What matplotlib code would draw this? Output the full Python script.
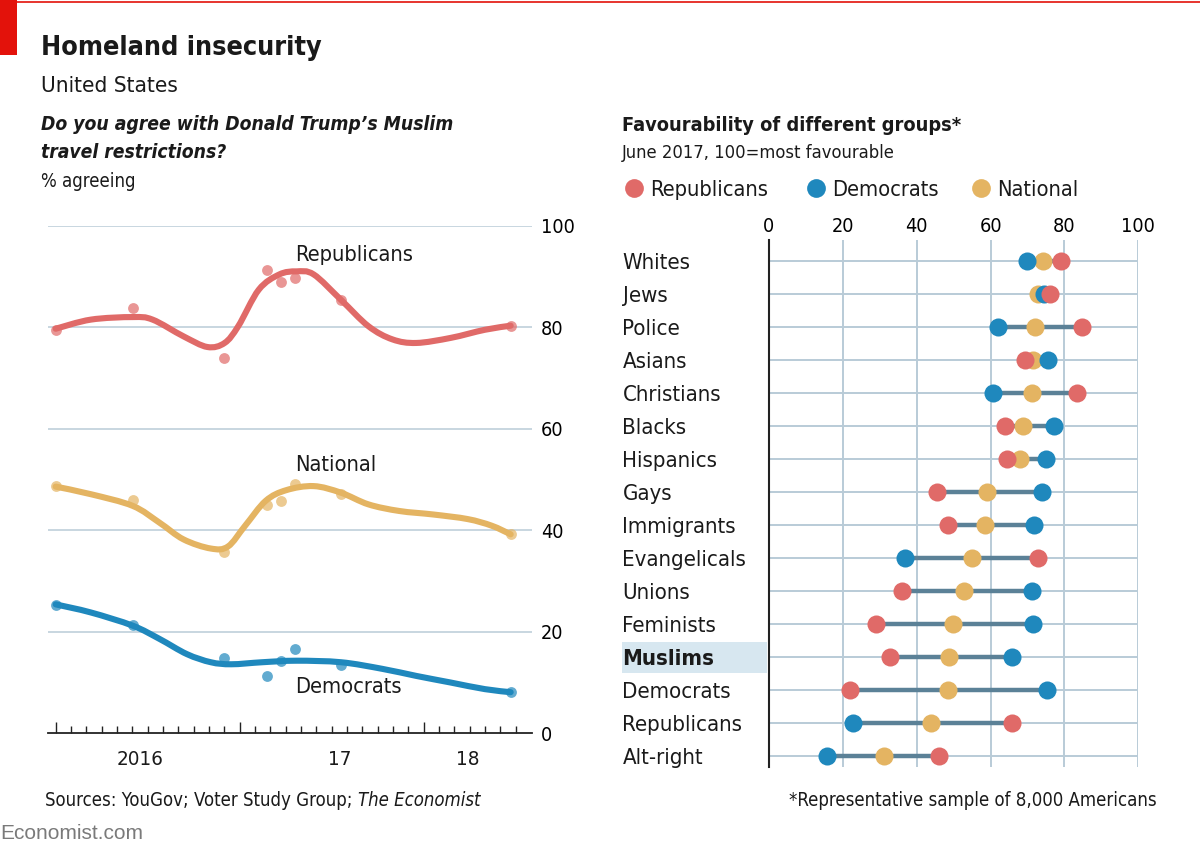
import os
import numpy as np
import matplotlib
matplotlib.use('Agg')
import matplotlib.pyplot as plt
from matplotlib import font_manager as fm
from matplotlib.path import Path
from matplotlib.patches import PathPatch, Rectangle
from matplotlib.lines import Line2D
import matplotlib.transforms as mtransforms

# ---------------- data: left chart (x = months since Jan 1st 2016) ----------------
series_names = ['Republicans', 'Democrats', 'National']

survey_months = [0.0, 5.03, 11.0, 13.8, 14.7, 15.6, 18.6, 29.7]
rep_agree = [79.5, 83.7, 74.0, 91.3, 89.0, 89.7, 85.4, 80.3]
nat_agree = [48.7, 45.9, 35.7, 45.0, 45.8, 49.2, 47.2, 39.2]
dem_agree = [25.3, 21.4, 14.8, 11.2, 14.2, 16.6, 13.5, 8.1]

# smoothed trend lines
rep_trend_months = [0, 2.30, 5.03, 6.32, 8.34, 9.90, 11.02, 11.91, 13.25, 14.59,
                    15.71, 16.83, 18.61, 20.40, 21.97, 23.53, 25.77, 28.0, 29.68]
rep_trend = [79.7, 81.5, 82.0, 81.5, 78.2, 76.1, 76.9, 80.2, 87.4, 90.4,
             91.0, 90.4, 85.4, 80.2, 77.6, 76.9, 77.9, 79.5, 80.3]
nat_trend_months = [0, 2.30, 5.03, 6.77, 8.34, 10.12, 11.24, 12.36, 13.70, 15.04,
                    16.83, 18.61, 20.40, 22.41, 24.65, 26.88, 28.44, 29.68]
nat_trend = [48.6, 47.1, 44.8, 41.5, 38.2, 36.4, 36.8, 40.9, 45.8, 47.9,
             48.7, 47.4, 45.1, 43.8, 43.1, 42.2, 40.9, 39.2]
dem_trend_months = [0, 2.30, 5.03, 6.77, 8.56, 10.12, 11.46, 13.47, 15.71, 18.61,
                    21.30, 23.53, 25.77, 28.0, 29.68]
dem_trend = [25.4, 23.8, 21.2, 18.6, 15.6, 14.0, 13.6, 14.0, 14.3, 14.0,
             12.7, 11.3, 10.0, 8.7, 8.1]

left_yticks = [0, 20, 40, 60, 80, 100]
year_labels = ['2016', '17', '18']
year_label_months = [5.5, 18.5, 26.9]
year_start_months = [0, 12, 24]
n_month_ticks = 31

# ---------------- data: right chart ----------------
groups = ['Whites', 'Jews', 'Police', 'Asians', 'Christians', 'Blacks', 'Hispanics',
          'Gays', 'Immigrants', 'Evangelicals', 'Unions', 'Feminists', 'Muslims',
          'Democrats', 'Republicans', 'Alt-right']
fav_rep = [79.2, 76.1, 84.7, 69.3, 83.4, 63.8, 64.5, 45.4, 48.6, 72.8, 35.9, 29.0,
           32.9, 22.0, 65.9, 45.9]
fav_dem = [69.9, 74.4, 62.1, 75.6, 60.6, 77.1, 74.9, 73.9, 71.7, 36.7, 71.3, 71.5,
           65.7, 75.4, 22.7, 15.7]
fav_nat = [74.1, 72.9, 72.0, 71.5, 71.2, 68.8, 68.1, 58.9, 58.5, 54.9, 52.7, 49.8,
           48.8, 48.6, 44.0, 31.1]
highlight_group = 'Muslims'
right_xticks = [0, 20, 40, 60, 80, 100]

# ---------------- style ----------------
RED = '#e06a68'
BLUE = '#1f88bd'
YELLOW = '#e4b462'
GRID = '#b9cbd7'
CONNECT = '#5b8197'
HILITE = '#d7e7f0'
TXT = '#1a1a1a'

# pick a narrow/condensed face if one is installed
path_by_base = {os.path.splitext(os.path.basename(f.fname))[0]: f.fname
                for f in fm.fontManager.ttflist}
font_sets = [
    ('NotoSans-SemiCondensed', 0.97),
    ('LiberationSansNarrow-', 1.0),
    ('DejaVuSansCondensed', 0.92),
    ('NotoSans-Condensed', 1.02),
]
suffixes = {'': (400, 'normal'), 'Regular': (400, 'normal'),
            'Italic': (400, 'italic'), 'Oblique': (400, 'italic'), '-Oblique': (400, 'italic'),
            'Medium': (500, 'normal'), 'MediumItalic': (500, 'italic'),
            'SemiBold': (600, 'normal'), 'SemiBoldItalic': (600, 'italic'),
            'Bold': (700, 'normal'), '-Bold': (700, 'normal'),
            'BoldItalic': (700, 'italic'), '-BoldOblique': (700, 'italic')}
FAMILY, K = 'Liberation Sans', 0.9
for prefix, k in font_sets:
    found = False
    for suf, (w, st) in suffixes.items():
        base = prefix + suf
        if base in path_by_base:
            fm.fontManager.ttflist.append(fm.FontEntry(
                fname=path_by_base[base], name='CondUI', style=st, variant='normal',
                weight=w, stretch='normal', size='scalable'))
            found = True
    if found:
        FAMILY, K = 'CondUI', k
        break
try:
    fm.fontManager._findfont_cached.cache_clear()
except Exception:
    pass

plt.rcParams['font.family'] = [FAMILY, 'DejaVu Sans']
plt.rcParams['text.color'] = TXT


def fs(v):
    return v * K


W, H = 1200, 851
fig = plt.figure(figsize=(W / 100, H / 100), dpi=100)


def fx(px):
    return px / W


def fy(py):
    return 1 - py / H


# header decorations
fig.add_artist(Rectangle((0, fy(55)), fx(17), fy(0) - fy(55), transform=fig.transFigure,
                         color='#e3120b', lw=0))
fig.add_artist(Line2D([0, 1], [fy(1.5), fy(1.5)], transform=fig.transFigure,
                      color='#e3120b', lw=1.2))

fig.text(fx(41), fy(55), 'Homeland insecurity', fontsize=fs(21), fontweight='bold',
         va='baseline')
fig.text(fx(41), fy(91.5), 'United States', fontsize=fs(17.5), va='baseline')
fig.text(fx(41), fy(130), 'Do you agree with Donald Trump\u2019s Muslim', fontsize=fs(15.1),
         fontstyle='italic', fontweight=600, va='baseline')
fig.text(fx(41), fy(157.5), 'travel restrictions?', fontsize=fs(15.1),
         fontstyle='italic', fontweight=600, va='baseline')
fig.text(fx(41), fy(187), '% agreeing', fontsize=fs(14.5), va='baseline')

fig.text(fx(622), fy(131), 'Favourability of different groups*', fontsize=fs(15.6),
         fontweight=600, va='baseline')
fig.text(fx(622), fy(158), 'June 2017, 100=most favourable', fontsize=fs(14.3),
         va='baseline')

# legend
leg_colors = [RED, BLUE, YELLOW]
leg_dot_x = [633.5, 815.5, 981]
for name, col, x in zip(series_names, leg_colors, leg_dot_x):
    fig.add_artist(Line2D([fx(x)], [fy(187.5)], transform=fig.transFigure, marker='o',
                          ms=13.5, mew=0, color=col, ls='none'))
    fig.text(fx(x + 16.5), fy(187.5), name, fontsize=fs(17), va='center_baseline')

# ---------------- left chart ----------------
axL = fig.add_axes([fx(47.7), fy(733.3), fx(532.3) - fx(47.7), fy(225.7) - fy(733.3)])
axL.set_xlim(-0.52, 31.09)
axL.set_ylim(0, 100)
for s in ['top', 'left', 'right']:
    axL.spines[s].set_visible(False)
axL.spines['bottom'].set_color('#222222')
axL.spines['bottom'].set_linewidth(1.3)
for v in left_yticks[1:]:
    axL.axhline(v, color=GRID, lw=1.1, zorder=0)
axL.yaxis.tick_right()
axL.set_yticks(left_yticks)
axL.set_yticklabels([str(v) for v in left_yticks], fontsize=fs(15.5))
axL.tick_params(axis='y', length=0, pad=6.3)

axL.set_xticks(year_start_months)
axL.set_xticklabels([])
axL.set_xticks([m for m in range(n_month_ticks) if m not in year_start_months], minor=True)
axL.tick_params(axis='x', which='major', direction='in', length=8, width=1, color='#222222')
axL.tick_params(axis='x', which='minor', direction='in', length=5, width=1, color='#222222')
for lab, m in zip(year_labels, year_label_months):
    axL.text(m, -24 / 507.6, lab, transform=axL.get_xaxis_transform(), fontsize=fs(16),
             ha='center', va='center_baseline')


def smooth_path(xs, ys):
    P = np.column_stack([xs, ys]).astype(float)
    n = len(P)
    verts = [P[0]]
    codes = [Path.MOVETO]
    for i in range(n - 1):
        p0 = P[i - 1] if i > 0 else P[i]
        p1, p2 = P[i], P[i + 1]
        p3 = P[i + 2] if i + 2 < n else P[i + 1]
        verts += [p1 + (p2 - p0) / 6, p2 - (p3 - p1) / 6, p2]
        codes += [Path.CURVE4] * 3
    return Path(verts, codes)


trends = [(rep_trend_months, rep_trend, RED), (dem_trend_months, dem_trend, BLUE),
          (nat_trend_months, nat_trend, YELLOW)]
for xs, ys, col in trends:
    axL.add_patch(PathPatch(smooth_path(xs, ys), facecolor='none', edgecolor=col,
                            lw=4.4, capstyle='round', joinstyle='round', zorder=3))
for vals, col in [(rep_agree, RED), (dem_agree, BLUE), (nat_agree, YELLOW)]:
    axL.plot(survey_months, vals, 'o', ms=7.8, mew=0, color=col, alpha=0.7, zorder=4,
             clip_on=False)

line_label_pos = [(15.6, 93.0), (15.6, 7.9), (15.6, 51.7)]
for name, (m, v) in zip(series_names, line_label_pos):
    axL.text(m, v, name, fontsize=fs(17), va='baseline', ha='left', zorder=5)

# ---------------- right chart ----------------
axR = fig.add_axes([fx(769), fy(766.7), fx(1138.3) - fx(769), fy(240) - fy(766.7)])
rows = np.arange(len(groups))
axR.set_xlim(0, 100)
axR.set_ylim(len(groups) - 1 + 0.324, -0.646)
for s in ['top', 'right', 'bottom']:
    axR.spines[s].set_visible(False)
axR.spines['left'].set_color('#222222')
axR.spines['left'].set_linewidth(1.5)
axR.spines['left'].set_zorder(6)
for v in right_xticks[1:]:
    axR.axvline(v, color=GRID, lw=1.4, zorder=0)
for r in rows:
    axR.axhline(r, color=GRID, lw=1.4, zorder=0)
axR.xaxis.tick_top()
axR.set_xticks(right_xticks)
axR.set_xticklabels([str(v) for v in right_xticks], fontsize=fs(15.5))
axR.tick_params(axis='x', length=0, pad=3)
axR.set_yticks([])

lo = np.minimum(np.minimum(fav_rep, fav_dem), fav_nat)
hi = np.maximum(np.maximum(fav_rep, fav_dem), fav_nat)
axR.hlines(rows, lo, hi, color=CONNECT, lw=3.2, zorder=2)
for vals, col, z in [(fav_nat, YELLOW, 3), (fav_dem, BLUE, 4), (fav_rep, RED, 5)]:
    axR.plot(vals, rows, 'o', ms=13, mew=0, color=col, ls='none', zorder=z, clip_on=False)

lab_tr = mtransforms.blended_transform_factory(fig.transFigure, axR.transData)
for r, g in zip(rows, groups):
    bold = g == highlight_group
    if bold:
        axR.add_patch(Rectangle((fx(621.5), r - 0.47), fx(767) - fx(621.5), 0.94,
                                transform=lab_tr, color=HILITE, lw=0, clip_on=False,
                                zorder=0))
    axR.text(fx(622.5), r, g, transform=lab_tr, fontsize=fs(17.3), va='center_baseline',
             ha='left', fontweight='bold' if bold else 'normal', clip_on=False)

# ---------------- footer ----------------
t1 = fig.text(fx(45), fy(806), 'Sources: YouGov; Voter Study Group; ', fontsize=fs(14.5),
              va='baseline')
fig.canvas.draw()
bb = t1.get_window_extent(renderer=fig.canvas.get_renderer())
fig.text(bb.x1 / W, fy(806), 'The Economist', fontsize=fs(14.5), fontstyle='italic',
         va='baseline')
fig.text(fx(1157), fy(806), '*Representative sample of 8,000 Americans', fontsize=fs(14.5),
         va='baseline', ha='right')
fig.text(fx(0), fy(839), 'Economist.com', fontsize=15, color='#7a7a7a',
         family=['Liberation Sans', 'DejaVu Sans'], va='baseline')

fig.savefig('out.png', dpi=100)
